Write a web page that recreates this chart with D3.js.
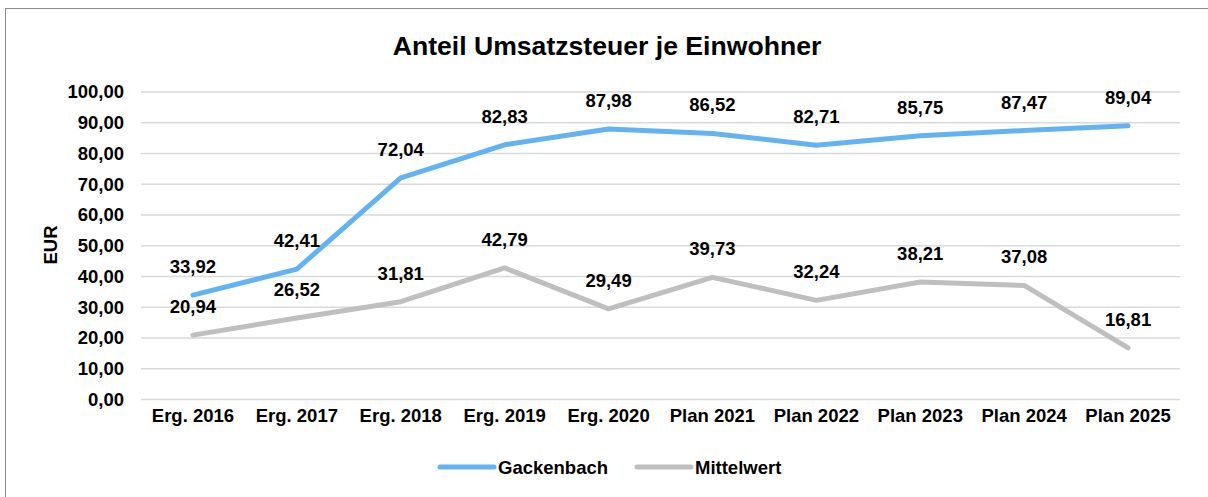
<!DOCTYPE html>
<html><head><meta charset="utf-8">
<script src="https://cdn.jsdelivr.net/npm/d3@7"></script>
<style>
html,body{margin:0;padding:0;background:#fff;}
svg{display:block;font-family:"Liberation Sans",Arial,sans-serif;}
</style></head>
<body>
<script>
const categories = ["Erg. 2016","Erg. 2017","Erg. 2018","Erg. 2019","Erg. 2020","Plan 2021","Plan 2022","Plan 2023","Plan 2024","Plan 2025"];
const gackenbach = [33.92,42.41,72.04,82.83,87.98,86.52,82.71,85.75,87.47,89.04];
const mittelwert = [20.94,26.52,31.81,42.79,29.49,39.73,32.24,38.21,37.08,16.81];
const yTicks = [0,10,20,30,40,50,60,70,80,90,100];
const seriesNames = ["Gackenbach","Mittelwert"];
const title = "Anteil Umsatzsteuer je Einwohner";
const yTitle = "EUR";

const W = 1208, H = 497;
const colors = ["#63B3F3","#BFBFBF"];
const FS = 18.5;
const fmt = v => d3.format(".2f")(v).replace(".", ",");

const svg = d3.select("body").append("svg").attr("width", W).attr("height", H);
svg.append("rect").attr("x",5.5).attr("y",8.5).attr("width",W+10).attr("height",H+10)
  .attr("fill","#fff").attr("stroke","#8c8c8c").attr("stroke-width",1);

const x = d3.scaleBand().domain(categories).range([141,1180]);
const y = d3.scaleLinear().domain([0,100]).range([399.5,92]);

svg.append("text").attr("x",607).attr("y",55).attr("text-anchor","middle")
  .attr("font-size",26.6).attr("font-weight","bold").attr("fill","#000").text(title);

// gridlines
svg.append("g").selectAll("line").data(yTicks).join("line")
  .attr("x1",141).attr("x2",1180).attr("y1",d=>y(d)).attr("y2",d=>y(d))
  .attr("stroke","#d9d9d9").attr("stroke-width",1.5);

// y axis
const yAxis = d3.axisLeft(y).tickValues(yTicks).tickFormat(fmt).tickSize(0).tickPadding(0);
const gy = svg.append("g").attr("transform","translate(124,0)").call(yAxis);
gy.select(".domain").remove();
gy.selectAll("text").attr("font-size",FS).attr("font-weight","bold").attr("fill","#000")
  .attr("font-family","Liberation Sans, Arial, sans-serif");

// x axis
const xAxis = d3.axisBottom(x).tickSize(0).tickPadding(0);
const gx = svg.append("g").attr("transform","translate(0,409)").call(xAxis);
gx.select(".domain").remove();
gx.selectAll("text").attr("font-size",FS).attr("font-weight","bold").attr("fill","#000")
  .attr("font-family","Liberation Sans, Arial, sans-serif");

svg.append("text").attr("transform","translate(57,245) rotate(-90)").attr("text-anchor","middle")
  .attr("font-size",FS).attr("font-weight","bold").text(yTitle);

const cx = c => x(c) + x.bandwidth()/2;
const line = d3.line().x((d,i)=>cx(categories[i])).y(d=>y(d));
const allSeries = [gackenbach, mittelwert];

allSeries.slice().reverse().forEach((s,ri)=>{
  const i = allSeries.length-1-ri;
  svg.append("path").datum(s).attr("d",line).attr("fill","none")
    .attr("stroke",colors[i]).attr("stroke-width",5)
    .attr("stroke-linecap","round").attr("stroke-linejoin","round");
});

allSeries.forEach((s,i)=>{
  svg.append("g").selectAll("text").data(s).join("text")
    .attr("x",(d,j)=>cx(categories[j])).attr("y",d=>y(d)-22)
    .attr("text-anchor","middle").attr("font-size",FS).attr("font-weight","bold")
    .attr("fill","#000").text(fmt);
});

// legend
const legendItems = [{x:440,tx:498},{x:637,tx:695}];
seriesNames.forEach((n,i)=>{
  const L = legendItems[i];
  svg.append("line").attr("x1",L.x).attr("x2",L.x+54).attr("y1",467).attr("y2",467)
    .attr("stroke",colors[i]).attr("stroke-width",5).attr("stroke-linecap","round");
  svg.append("text").attr("x",L.tx).attr("y",473.5).attr("font-size",FS).attr("font-weight","bold")
    .attr("fill","#000").text(n);
});
</script>
</body></html>
